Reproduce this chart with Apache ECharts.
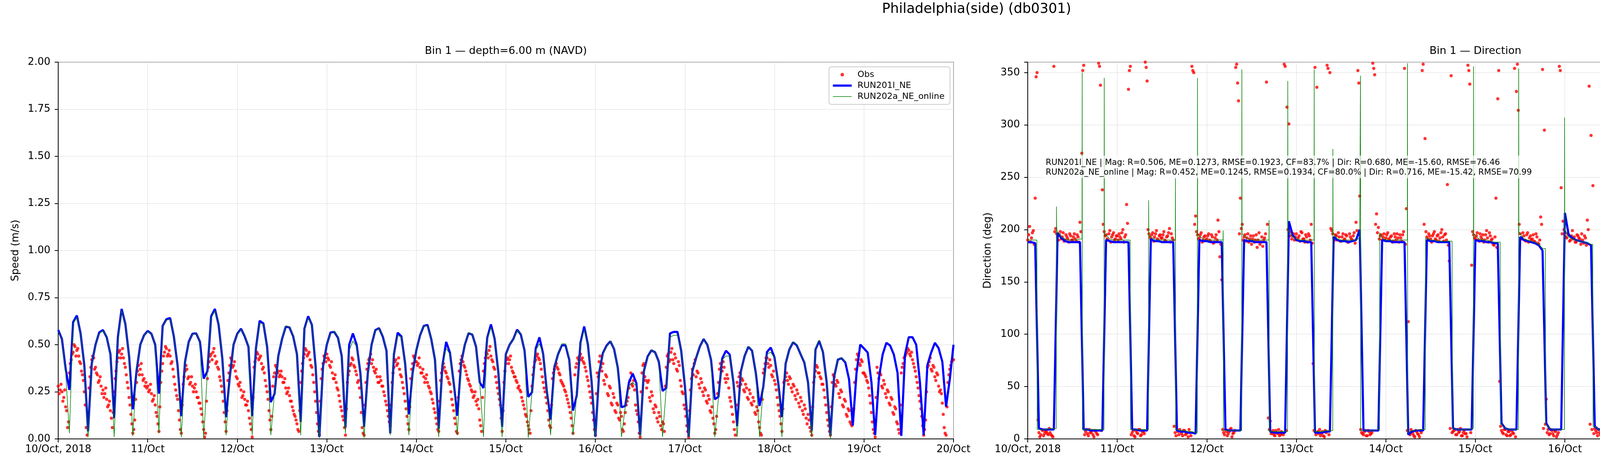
<!DOCTYPE html>
<html>
<head>
<meta charset="utf-8">
<script src="https://cdn.jsdelivr.net/npm/echarts@6/dist/echarts.min.js"></script>
<style>
  html, body { margin: 0; padding: 0; background: #fff; }
  #chart { width: 5000px; height: 1200px; }
</style>
</head>
<body>
<div id="chart"></div>
<script>
// x axis: hours since 10/Oct 2018 00:00, one label per day
const dayLabels = ['10/Oct, 2018', '11/Oct', '12/Oct', '13/Oct', '14/Oct', '15/Oct',
  '16/Oct', '17/Oct', '18/Oct', '19/Oct', '20/Oct'];

// observed speed (m/s), on the hour and half hour
const speedObs = [
  0.28,0.26,0.25,0.22,0.17,0.06,0.35,0.42,0.46,0.49,0.47,0.44,0.40,0.34,0.25,0.06,0.13,0.33,0.42,0.43,0.38,0.34,0.31,0.28,
  0.26,0.24,0.21,0.18,0.15,0.06,0.25,0.36,0.43,0.47,0.45,0.43,0.38,0.30,0.22,0.13,0.03,0.10,0.30,0.39,0.37,0.34,0.32,0.30,
  0.28,0.26,0.24,0.21,0.18,0.12,0.04,0.30,0.40,0.46,0.48,0.45,0.44,0.41,0.33,0.26,0.21,0.10,0.03,0.29,0.36,0.37,0.33,0.30,
  0.28,0.27,0.25,0.22,0.19,0.13,0.05,0.03,0.32,0.41,0.45,0.46,0.44,0.41,0.37,0.31,0.25,0.14,0.04,0.31,0.39,0.42,0.39,0.36,
  0.32,0.28,0.26,0.23,0.21,0.18,0.15,0.08,0.01,0.38,0.43,0.45,0.43,0.40,0.38,0.31,0.25,0.15,0.05,0.28,0.35,0.38,0.36,0.34,
  0.33,0.30,0.27,0.25,0.23,0.20,0.15,0.12,0.08,0.04,0.30,0.40,0.45,0.47,0.45,0.42,0.38,0.30,0.20,0.08,0.02,0.32,0.40,0.43,
  0.45,0.42,0.38,0.35,0.32,0.30,0.26,0.20,0.15,0.10,0.02,0.30,0.36,0.40,0.42,0.38,0.34,0.31,0.22,0.06,0.02,0.30,0.40,0.43,
  0.40,0.38,0.35,0.33,0.30,0.31,0.28,0.23,0.18,0.12,0.07,0.30,0.38,0.42,0.40,0.37,0.33,0.27,0.20,0.12,0.05,0.32,0.40,0.43,
  0.41,0.40,0.38,0.35,0.33,0.32,0.30,0.27,0.24,0.19,0.14,0.08,0.04,0.31,0.37,0.38,0.35,0.32,0.29,0.21,0.15,0.08,0.03,0.36,
  0.42,0.41,0.38,0.34,0.31,0.28,0.25,0.23,0.20,0.21,0.10,0.04,0.36,0.43,0.45,0.47,0.44,0.41,0.37,0.30,0.24,0.18,0.04,0.30,
  0.40,0.43,0.42,0.38,0.35,0.33,0.30,0.28,0.25,0.20,0.16,0.12,0.07,0.03,0.28,0.38,0.42,0.45,0.42,0.37,0.30,0.25,0.19,0.10,
  0.06,0.32,0.37,0.40,0.37,0.34,0.30,0.28,0.25,0.21,0.17,0.11,0.03,0.34,0.40,0.42,0.45,0.43,0.40,0.36,0.31,0.25,0.19,0.10,
  0.02,0.35,0.41,0.38,0.40,0.29,0.33,0.23,0.27,0.18,0.22,0.14,0.18,0.10,0.12,0.04,0.14,0.20,0.27,0.35,0.28,0.26,0.15,0.09,
  0.01,0.35,0.40,0.31,0.30,0.22,0.25,0.16,0.18,0.11,0.14,0.07,0.09,0.04,0.38,0.45,0.42,0.48,0.40,0.43,0.36,0.39,0.28,0.24,
  0.16,0.07,0.01,0.26,0.37,0.40,0.33,0.35,0.27,0.30,0.23,0.26,0.19,0.21,0.14,0.11,0.03,0.12,0.30,0.40,0.36,0.38,0.30,0.32,
  0.22,0.17,0.09,0.02,0.30,0.33,0.29,0.31,0.25,0.27,0.21,0.24,0.18,0.20,0.13,0.15,0.06,0.02,0.35,0.40,0.43,0.38,0.39,0.33,
  0.31,0.26,0.18,0.12,0.04,0.30,0.33,0.31,0.33,0.27,0.29,0.23,0.26,0.19,0.22,0.15,0.18,0.11,0.13,0.06,0.02,0.30,0.36,0.38,
  0.35,0.32,0.29,0.22,0.14,0.07,0.02,0.30,0.33,0.28,0.30,0.22,0.25,0.17,0.20,0.12,0.15,0.08,0.10,0.30,0.42,0.44,0.39,0.41,
  0.35,0.33,0.30,0.23,0.14,0.05,0.01,0.38,0.32,0.34,0.27,0.29,0.22,0.25,0.18,0.21,0.13,0.16,0.08,0.03,0.35,0.40,0.44,0.46,
  0.47,0.44,0.42,0.38,0.33,0.27,0.20,0.12,0.02,0.10,0.38,0.41,0.37,0.39,0.33,0.35,0.28,0.26,0.19,0.06,0.02,0.30,0.37,0.41,
  0.42
];
// observed speed (m/s), quarter past / quarter to
const speedObsQ = [
  0.24,0.29,0.20,0.26,0.15,0.09,0.40,0.45,0.50,0.44,0.48,0.41,0.36,0.31,0.18,0.02,0.27,0.38,0.44,0.37,0.35,0.30,0.33,0.24,
  0.22,0.27,0.17,0.20,0.11,0.14,0.32,0.41,0.46,0.43,0.48,0.40,0.34,0.27,0.18,0.08,0.05,0.21,0.36,0.34,0.40,0.31,0.28,0.27,
  0.25,0.29,0.20,0.23,0.14,0.08,0.17,0.36,0.44,0.49,0.44,0.47,0.40,0.37,0.29,0.23,0.15,0.05,0.18,0.33,0.39,0.32,0.29,0.33,
  0.25,0.29,0.22,0.19,0.16,0.09,0.01,0.20,0.38,0.44,0.42,0.48,0.40,0.38,0.33,0.28,0.20,0.09,0.15,0.35,0.43,0.38,0.41,0.33,
  0.29,0.30,0.22,0.25,0.18,0.20,0.11,0.05,0.22,0.41,0.46,0.42,0.44,0.37,0.35,0.28,0.21,0.10,0.12,0.33,0.39,0.35,0.33,0.36,
  0.30,0.32,0.24,0.27,0.20,0.17,0.13,0.10,0.05,0.15,0.36,0.43,0.48,0.44,0.46,0.39,0.34,0.25,0.14,0.04,0.20,0.37,0.44,0.41,
  0.43,0.39,0.41,0.32,0.34,0.27,0.23,0.17,0.12,0.06,0.16,0.34,0.39,0.43,0.39,0.36,0.30,0.27,0.14,0.03,0.18,0.37,0.42,0.45,
  0.42,0.36,0.37,0.30,0.33,0.28,0.25,0.20,0.15,0.09,0.18,0.35,0.41,0.39,0.43,0.34,0.30,0.24,0.16,0.08,0.17,0.37,0.44,0.41,
  0.39,0.43,0.35,0.37,0.30,0.34,0.28,0.25,0.21,0.16,0.11,0.05,0.20,0.35,0.40,0.36,0.33,0.30,0.25,0.18,0.11,0.04,0.22,0.40,
  0.44,0.39,0.36,0.32,0.29,0.26,0.22,0.25,0.18,0.16,0.07,0.22,0.40,0.46,0.43,0.49,0.42,0.38,0.33,0.27,0.21,0.11,0.15,0.36,
  0.42,0.40,0.44,0.36,0.33,0.31,0.27,0.26,0.22,0.18,0.13,0.09,0.05,0.15,0.34,0.41,0.44,0.43,0.40,0.33,0.27,0.22,0.15,0.07,
  0.18,0.35,0.39,0.38,0.35,0.31,0.29,0.26,0.23,0.19,0.14,0.07,0.18,0.38,0.43,0.44,0.42,0.41,0.38,0.33,0.28,0.22,0.14,0.05,
  0.24,0.33,0.44,0.36,0.31,0.34,0.24,0.28,0.19,0.24,0.15,0.19,0.11,0.14,0.05,0.08,0.18,0.22,0.31,0.29,0.31,0.18,0.13,0.03,
  0.25,0.39,0.33,0.27,0.31,0.20,0.23,0.14,0.17,0.09,0.12,0.05,0.08,0.28,0.44,0.41,0.46,0.42,0.45,0.37,0.41,0.31,0.25,0.18,
  0.12,0.04,0.15,0.32,0.34,0.42,0.36,0.29,0.32,0.25,0.27,0.20,0.23,0.15,0.17,0.08,0.05,0.24,0.37,0.38,0.41,0.32,0.34,0.27,
  0.20,0.13,0.05,0.18,0.28,0.35,0.32,0.26,0.29,0.22,0.26,0.19,0.22,0.14,0.17,0.09,0.03,0.21,0.37,0.43,0.40,0.42,0.34,0.36,
  0.29,0.22,0.15,0.08,0.16,0.31,0.35,0.29,0.32,0.25,0.28,0.21,0.24,0.17,0.20,0.13,0.16,0.08,0.10,0.04,0.17,0.33,0.39,0.35,
  0.33,0.29,0.26,0.18,0.10,0.04,0.17,0.34,0.29,0.31,0.24,0.26,0.18,0.21,0.13,0.16,0.09,0.07,0.16,0.37,0.45,0.40,0.42,0.35,
  0.34,0.31,0.27,0.19,0.09,0.03,0.22,0.35,0.35,0.28,0.31,0.24,0.26,0.19,0.22,0.14,0.17,0.09,0.05,0.18,0.38,0.43,0.45,0.48,
  0.45,0.46,0.40,0.36,0.30,0.23,0.16,0.07,0.05,0.25,0.39,0.43,0.36,0.38,0.31,0.34,0.25,0.24,0.13,0.03,0.17,0.34,0.39,0.42
];

// model speed (m/s), hourly
const speedRun201 = [
  0.578,0.53,0.37,0.26,0.62,0.655,0.56,0.39,0.04,0.40,
  0.50,0.565,0.578,0.54,0.45,0.11,0.54,0.69,0.61,0.44,
  0.157,0.36,0.50,0.55,0.573,0.558,0.50,0.24,0.60,0.635,
  0.642,0.544,0.39,0.12,0.41,0.516,0.558,0.56,0.516,0.32,
  0.36,0.651,0.69,0.606,0.426,0.115,0.33,0.50,0.558,0.585,
  0.544,0.489,0.12,0.48,0.627,0.613,0.489,0.195,0.24,0.44,
  0.53,0.596,0.592,0.544,0.45,0.09,0.585,0.651,0.606,0.385,
  0.01,0.385,0.50,0.565,0.568,0.537,0.44,0.06,0.50,0.56,
  0.50,0.35,0.064,0.35,0.50,0.577,0.588,0.544,0.468,0.03,
  0.45,0.564,0.544,0.40,0.13,0.35,0.47,0.55,0.60,0.605,
  0.53,0.42,0.054,0.39,0.515,0.458,0.30,0.123,0.40,0.50,
  0.561,0.554,0.49,0.30,0.27,0.536,0.608,0.53,0.35,0.064,
  0.45,0.50,0.53,0.58,0.555,0.47,0.223,0.247,0.48,0.539,
  0.45,0.25,0.102,0.38,0.45,0.497,0.497,0.42,0.15,0.23,
  0.51,0.597,0.50,0.30,0.012,0.35,0.455,0.495,0.518,0.478,
  0.378,0.168,0.175,0.30,0.347,0.295,0.02,0.36,0.437,0.47,
  0.46,0.41,0.255,0.27,0.56,0.568,0.568,0.468,0.28,0.012,
  0.36,0.43,0.49,0.53,0.50,0.42,0.21,0.224,0.427,0.468,
  0.448,0.30,0.068,0.358,0.44,0.489,0.468,0.35,0.175,0.275,
  0.461,0.485,0.433,0.30,0.116,0.40,0.475,0.513,0.496,0.45,
  0.406,0.30,0.043,0.475,0.52,0.461,0.30,0.02,0.33,0.421,
  0.428,0.406,0.316,0.071,0.35,0.501,0.48,0.458,0.30,0.02,
  0.323,0.448,0.51,0.496,0.448,0.35,0.016,0.448,0.54,0.54,
  0.50,0.30,0.02,0.392,0.458,0.51,0.482,0.41,0.171,0.316,
  0.50
];
const speedRun202 = [
  0.57,0.53,0.35,0.03,0.61,0.645,0.56,0.38,0.01,0.40,
  0.50,0.56,0.575,0.545,0.45,0.01,0.53,0.68,0.61,0.44,
  0.015,0.36,0.50,0.55,0.57,0.56,0.50,0.03,0.60,0.63,
  0.635,0.55,0.39,0.01,0.41,0.515,0.555,0.56,0.52,0.005,
  0.36,0.64,0.68,0.61,0.43,0.02,0.33,0.50,0.555,0.58,
  0.55,0.49,0.02,0.48,0.615,0.61,0.49,0.02,0.25,0.44,
  0.53,0.60,0.595,0.55,0.45,0.02,0.58,0.64,0.61,0.38,
  0.005,0.38,0.50,0.56,0.57,0.54,0.44,0.03,0.47,0.52,
  0.49,0.35,0.005,0.35,0.50,0.575,0.585,0.55,0.47,0.02,
  0.45,0.55,0.54,0.40,0.02,0.35,0.47,0.55,0.60,0.60,
  0.53,0.42,0.01,0.39,0.48,0.45,0.30,0.02,0.40,0.50,
  0.565,0.555,0.49,0.30,0.01,0.53,0.59,0.53,0.35,0.01,
  0.45,0.50,0.53,0.575,0.56,0.47,0.005,0.25,0.47,0.505,
  0.45,0.25,0.02,0.38,0.45,0.505,0.505,0.43,0.02,0.23,
  0.50,0.58,0.50,0.30,0.01,0.35,0.45,0.49,0.52,0.48,
  0.375,0.01,0.17,0.28,0.30,0.28,0.01,0.36,0.43,0.47,
  0.46,0.41,0.01,0.27,0.54,0.55,0.55,0.47,0.28,0.01,
  0.36,0.43,0.49,0.53,0.50,0.42,0.01,0.22,0.42,0.44,
  0.44,0.30,0.01,0.35,0.44,0.49,0.47,0.35,0.01,0.27,
  0.45,0.46,0.43,0.30,0.01,0.40,0.475,0.515,0.50,0.45,
  0.41,0.30,0.01,0.48,0.525,0.46,0.30,0.0,0.33,0.42,
  0.43,0.41
];

// observed direction (deg), on the hour and half hour
const dirObs = [
  190,203,192,199,230,350,6,4,8,5,7,4,6,3,356,201,193,195,191,197,190,193,188,194,
  190,196,189,193,207,273,357,7,5,9,6,4,8,5,359,338,238,198,195,190,199,193,197,191,
  194,196,191,200,193,224,334,356,6,3,8,5,9,4,7,360,342,196,191,197,193,199,190,195,
  192,198,189,194,201,196,190,6,9,4,7,3,8,5,2,6,356,350,213,195,192,197,190,194,
  191,196,189,193,188,195,209,174,152,6,9,3,7,10,5,8,358,323,230,205,193,189,196,191,
  186,194,190,183,197,188,184,192,341,20,17,6,4,8,5,3,7,4,356,317,301,198,194,190,
  196,192,189,197,191,195,188,194,205,72,355,336,5,3,7,2,6,354,350,199,192,195,190,193,
  189,196,191,194,188,193,190,197,207,352,232,6,4,8,3,7,5,359,348,215,202,194,190,196,
  192,197,190,194,189,193,196,188,192,195,354,220,112,4,7,3,8,5,2,6,358,287,193,196,
  191,194,198,190,195,192,200,189,196,243,170,347,7,9,4,6,10,3,8,5,357,339,166,195,
  191,197,189,193,195,190,199,188,194,191,185,230,325,55,8,5,9,3,7,4,6,354,332,314,
  196,191,194,189,197,192,190,195,188,193,186,212,353,295,38,9,5,8,3,7,4,356,240,208,
  197,192,195,190,199,193,188,194,191,196,187,192,209,337,290,242,10,6,9,4,7,3,354,328,
  195,190,193,197,189,194,191,196,188,193,217,210,360,296,8,4,7,2,6,9,3,5,8,4,
  21,166,197,192,195,190,198,193,189,196,191,194,188,197,192,190,240,7,9,4,6,3,8,5,
  7,2,358,289,201,195,191,197,189,194,192,196,190,193,188,195,247,358,8,5,9,3,7,4,
  6,2,354,264,198,193,190,196,191,194,189,197,192,188,195,190,193,204,236,347,9,6,4,8,
  3,7,5,2,360,176,210,171,193,189,196,191,194,207,188,277,178,265,8,5,9,3,6,4,
  8,2,7,358,58,167,194,190,197,192,189,195,191,194,188,196,190,206,279,213,167,7,4,9,
  5,3,8,6,2,356,20,99,193,197,190,195,192,188,196,191,194,189,99,347,15,6,9,4,
  7
];
// observed direction (deg), quarter past / quarter to
const dirObsQ = [
  195,188,197,186,346,18,2,9,3,7,5,10,4,2,198,196,190,198,193,189,195,191,196,190,
  193,191,195,188,198,352,4,9,3,6,8,2,7,4,356,8,205,194,191,196,188,195,190,194,
  190,193,197,188,195,206,352,4,8,2,6,9,3,7,5,355,200,193,195,189,196,191,194,192,
  195,190,193,197,188,192,12,3,7,9,5,8,4,6,9,3,352,205,198,191,195,188,193,190,
  194,190,195,187,192,190,198,186,9,4,7,5,9,2,6,355,340,196,201,190,195,192,188,194,
  191,188,195,190,186,193,190,196,205,9,5,8,3,6,9,4,5,358,8,200,194,191,196,193,
  190,194,198,191,188,193,196,190,187,8,4,7,9,5,3,8,357,4,201,196,190,194,197,189,
  193,190,195,188,196,191,194,187,199,340,9,5,7,3,8,4,6,354,205,197,191,195,193,190,
  195,191,193,188,196,190,192,195,189,198,186,8,6,9,5,2,7,4,8,352,205,198,191,194,
  188,196,191,194,189,197,193,195,190,185,10,6,8,4,9,7,3,6,5,2,352,6,198,192,
  194,190,196,191,188,195,192,197,190,186,193,183,352,12,6,9,4,7,3,8,5,2,358,205,
  192,197,190,195,188,194,191,189,196,187,190,205,10,14,6,4,9,5,8,2,6,352,196,200,
  193,196,189,194,191,188,195,192,186,190,194,185,200,14,9,5,8,3,6,9,4,358,12,202,
  192,196,189,194,191,197,188,193,190,186,203,195,8,5,9,3,6,4,8,2,7,5,3,6,
  355,200,194,190,196,193,189,195,192,188,194,190,196,191,187,193,12,5,8,3,9,6,4,7,
  4,9,352,205,197,192,194,189,196,191,188,193,197,190,194,186,352,10,4,7,2,8,5,3,
  3,8,5,200,195,190,194,188,193,197,191,189,194,196,190,187,192,196,190,8,5,9,3,6,
  8,4,6,3,352,198,190,195,191,194,188,193,190,185,192,183,188,10,6,3,7,4,9,5,
  5,3,9,355,190,198,192,196,189,194,191,188,196,190,193,187,194,185,190,8,5,3,8,6,
  7,4,2,9,5,3,352,202,196,191,194,189,197,193,190,195,188,186,185,8,4,7,5,3
];

// model direction (deg), hourly
const dirRun201 = [
  188,188,187,10,9,9,9,9,197,192,
  189,188,188,188,188,9,9,8,8,8,
  8,190,189,188,188,188,188,188,9,9,
  8,8,8,191,189,189,188,188,188,188,
  8,7,7,6,6,5,190,189,189,188,
  188,188,188,9,8,8,8,8,190,189,
  189,188,188,188,188,7,6,6,6,6,
  208,195,190,189,189,188,188,6,6,6,
  7,7,193,190,189,189,188,189,190,200,
  8,8,8,8,8,190,189,189,188,188,
  188,188,4,7,8,8,8,190,189,189,
  188,188,188,188,10,9,9,9,9,9,
  190,189,189,188,188,187,187,15,10,9,
  9,9,193,190,189,188,187,185,180,15,
  9,9,9,9,216,195,192,190,189,188,
  187,185,12,9,9,9,358,190,189,188,
  188,188,187,10,8,7,7,8,8,343,
  193,190,189,189,188,188,187,12,9,8,
  8,8,197,190,189,189,188,188,186,10,
  8,8,8,8,193,190,189,189,188,188,
  188,187,31,10,8,8,7,2,190,189,
  188,187,186,180,10,9,9,9,9,211,
  190,189,189,188,187,186,97,8,7,7,
  7,8,210,190,189,188,187,186,182,10,
  5
];
const dirRun202 = [
  190,190,190,9,9,9,10,10,198,193,
  191,190,190,190,191,9,9,9,9,9,
  9,195,191,190,190,190,190,190,9,9,
  9,9,9,193,191,190,190,190,190,190,
  9,8,8,7,7,6,194,191,190,190,
  190,190,190,8,8,8,8,8,194,191,
  190,190,190,190,190,7,7,7,7,7,
  198,193,191,190,190,190,190,7,7,7,
  8,8,196,191,190,190,190,190,190,192,
  8,8,8,8,9,192,190,190,190,190,
  190,190,6,8,8,9,9,192,190,190,
  189,189,189,189,10,9,9,9,9,10,
  194,191,190,190,189,188,188,14,10,9,
  9,9,196,191,190,189,188,186,182,14,
  10,9,9,9,200,193,191,190,189,188,
  187,186,12,9,9,9,200,192,190,189,
  189,189,188,10,8,8,8,8,8,200,
  193,191,190,190,189,189,188,12,9,9,
  9,9,198,192,190,190,189,189,188,10,
  9,9,9,9,196,192,191,190,190,190,
  190,190,12,9,8,8,8,5,192,190,
  189,188
];
// RUN202a flips between ebb and flood within minutes, often through 360
const dirRun202Flips = [
  [2.45,190],[2.55,9],
  [7.65,10],[7.7,222],[7.75,200],
  [14.55,191],[14.6,350],[14.65,9],
  [20.45,9],[20.5,345],[20.55,196],
  [27.45,190],[27.55,9],
  [32.35,9],[32.4,228],[32.45,195],
  [39.55,190],[39.6,249],[39.65,9],
  [45.45,6],[45.5,345],[45.55,196],
  [52.35,190],[52.4,199],[52.45,8],
  [57.35,8],[57.4,353],[57.45,196],
  [64.65,190],[64.7,209],[64.75,7],
  [69.65,7],[69.7,342],[69.75,200],
  [76.75,190],[76.8,353],[76.85,7],
  [81.75,8],[81.8,277],[81.85,198],
  [89.15,192],[89.2,347],[89.25,8],
  [94.3,9],[94.35,197],
  [101.75,190],[101.8,359],[101.85,6],
  [106.55,9],[106.65,192],
  [113.75,189],[113.85,10],
  [119.45,10],[119.5,356],[119.55,196],
  [126.65,188],[126.75,14],
  [131.55,9],[131.6,354],[131.65,198],
  [138.75,182],[138.85,14],
  [143.85,9],[143.9,307],[143.95,205],
  [151.45,186],[151.55,12],
  [155.75,9],[155.8,359],[155.85,200],
  [162.55,188],[162.65,10],
  [168.75,8],[168.8,355],[168.85,200],
  [176.55,188],[176.65,12],
  [181.65,9],[181.7,1],[181.75,327],[181.8,198],
  [188.55,188],[188.65,10],
  [193.65,9],[193.7,345],[193.75,200],
  [201.75,190],[201.85,12],
  [207.15,5],[207.2,314],[207.25,196]
];

const statsText = [
  'RUN201l_NE | Mag: R=0.506, ME=0.1273, RMSE=0.1923, CF=83.7% | Dir: R=0.680, ME=-15.60, RMSE=76.46',
  'RUN202a_NE_online | Mag: R=0.452, ME=0.1245, RMSE=0.1934, CF=80.0% | Dir: R=0.716, ME=-15.42, RMSE=70.99'
];

const FONT = 'DejaVu Sans';
const BLUE = '#0000ff', GREEN = '#008000', RED = '#ff0000';
const everyHour = arr => arr.map((v, i) => [i, v]);
const halfHours = (arr, offset) => arr.map((v, i) => [offset + i * 0.5, v]);

const chart = echarts.init(document.getElementById('chart'), null, {renderer: 'canvas'});

function makeX(gridIndex) {
  return {
    type: 'value', gridIndex: gridIndex, min: 0, max: 240, interval: 24,
    axisLine: {show: true, onZero: false, lineStyle: {color: '#000', width: 2}},
    axisTick: {show: true, inside: false, length: 9, lineStyle: {color: '#000', width: 2}},
    axisLabel: {
      show: true, margin: 14, fontSize: 26, fontFamily: FONT, color: '#000',
      showMinLabel: true, showMaxLabel: true, hideOverlap: false,
      formatter: v => dayLabels[Math.round(v / 24)] || ''
    },
    splitLine: {show: true, lineStyle: {color: '#e6e6e6', width: 1.5}}
  };
}

function makeY(gridIndex, name, max, step, gap, fmt) {
  return {
    type: 'value', gridIndex: gridIndex, min: 0, max: max, interval: step,
    name: name, nameLocation: 'middle', nameGap: gap, nameRotate: 90,
    nameTextStyle: {fontSize: 26, fontFamily: FONT, color: '#000'},
    axisLine: {show: true, onZero: false, lineStyle: {color: '#000', width: 2}},
    axisTick: {show: true, inside: false, length: 9, lineStyle: {color: '#000', width: 2}},
    axisLabel: {show: true, margin: 20, fontSize: 26, fontFamily: FONT, color: '#000',
      showMinLabel: true, showMaxLabel: true, hideOverlap: false, formatter: fmt},
    splitLine: {show: true, lineStyle: {color: '#e6e6e6', width: 1.5}}
  };
}

function makeLegend(right) {
  return {
    orient: 'vertical', right: right, top: 171,
    padding: [9, 14, 9, 10], itemGap: 6, itemWidth: 48, itemHeight: 9,
    backgroundColor: 'rgba(255,255,255,0.8)', borderColor: '#cccccc', borderWidth: 2, borderRadius: 6,
    textStyle: {fontSize: 22, fontFamily: FONT, color: '#000', padding: [0, 0, 0, 10]},
    selectedMode: false,
    data: [
      {name: 'Obs', icon: 'circle'},
      {name: 'RUN201l_NE', icon: 'path://M0,0H48V5.5H0Z'},
      {name: 'RUN202a_NE_online', icon: 'path://M0,0H48V1.5H0Z'}
    ]
  };
}

function obsSeries(axis, onHour, quarter) {
  return {
    name: 'Obs', type: 'scatter', xAxisIndex: axis, yAxisIndex: axis,
    data: halfHours(onHour, 0).concat(halfHours(quarter, 0.25)),
    symbol: 'circle', symbolSize: 8, itemStyle: {color: RED}, z: 2
  };
}

function modelSeries(axis, name, data, color, width, z) {
  return {
    name: name, type: 'line', xAxisIndex: axis, yAxisIndex: axis, data: data,
    symbol: 'none', lineStyle: {color: color, width: width}, itemStyle: {color: color}, z: z
  };
}

const run202Dir = everyHour(dirRun202).concat(dirRun202Flips).sort((a, b) => a[0] - b[0]);

const option = {
  animation: false,
  backgroundColor: '#fff',
  grid: [
    {left: 149, width: 2292, top: 159, height: 964, show: true, borderColor: '#000', borderWidth: 2,
      backgroundColor: 'transparent', containLabel: false, outerBoundsMode: 'none'},
    {left: 2631, width: 2292, top: 159, height: 964, show: true, borderColor: '#000', borderWidth: 2,
      backgroundColor: 'transparent', containLabel: false, outerBoundsMode: 'none'}
  ],
  xAxis: [makeX(0), makeX(1)],
  yAxis: [
    makeY(0, 'Speed (m/s)', 2, 0.25, 96, v => v.toFixed(2)),
    makeY(1, 'Direction (deg)', 360, 50, 89, v => (v % 50 === 0 ? String(v) : ''))
  ],
  legend: [makeLegend(5000 - 2432), makeLegend(5000 - 4913)],
  series: [
    obsSeries(0, speedObs, speedObsQ),
    modelSeries(0, 'RUN201l_NE', everyHour(speedRun201), BLUE, 5.5, 3),
    modelSeries(0, 'RUN202a_NE_online', everyHour(speedRun202), GREEN, 1.5, 4),
    obsSeries(1, dirObs, dirObsQ),
    modelSeries(1, 'RUN201l_NE', everyHour(dirRun201), BLUE, 5.5, 3),
    modelSeries(1, 'RUN202a_NE_online', run202Dir, GREEN, 1.5, 4)
  ],
  graphic: [
    {type: 'text', x: 2500, y: 24, z: 100,
      style: {text: 'Philadelphia(side) (db0301)', font: '35px "DejaVu Sans"', fill: '#000',
        align: 'center', verticalAlign: 'middle'}},
    {type: 'text', x: 1295, y: 131, z: 100,
      style: {text: 'Bin 1 \u2014 depth=6.00 m (NAVD)', font: '27px "DejaVu Sans"', fill: '#000',
        align: 'center', verticalAlign: 'middle'}},
    {type: 'text', x: 3777, y: 131, z: 100,
      style: {text: 'Bin 1 \u2014 Direction', font: '27px "DejaVu Sans"', fill: '#000',
        align: 'center', verticalAlign: 'middle'}},
    {type: 'rect', z: 100, shape: {x: 2671, y: 398, width: 1328, height: 58},
      style: {fill: 'rgba(255,255,255,0.7)', stroke: null}},
    {type: 'text', x: 2677, y: 404, z: 101,
      style: {text: statsText.join('\n'), font: '21px "DejaVu Sans"', fill: '#000',
        lineHeight: 25, align: 'left', verticalAlign: 'top'}}
  ]
};

chart.setOption(option);
</script>
</body>
</html>
